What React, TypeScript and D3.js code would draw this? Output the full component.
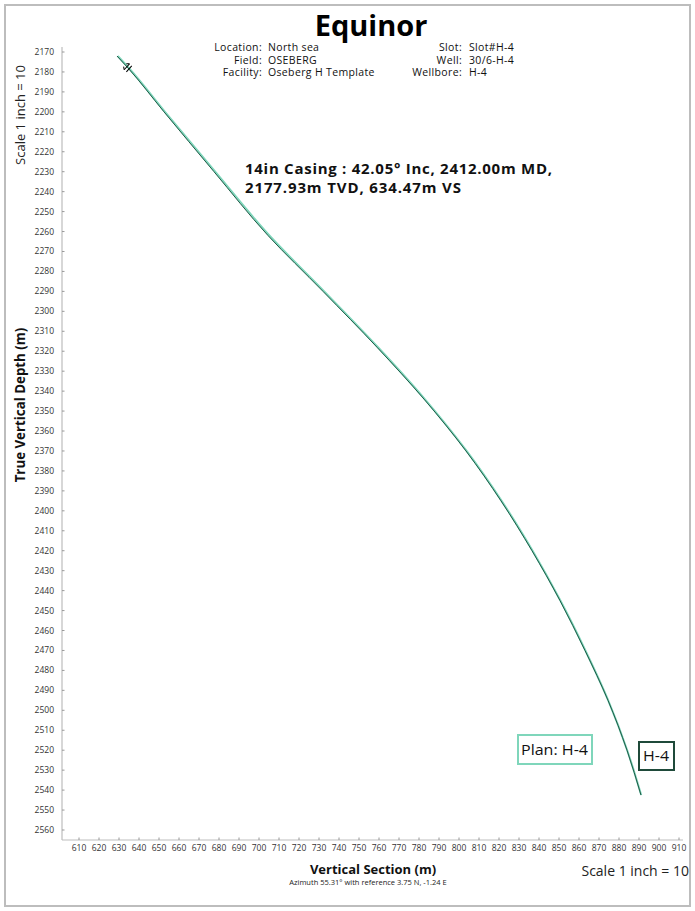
import React from "react";
import * as d3 from "d3";

const W = 695;
const H = 911;

const xTicks = d3.range(610, 911, 10);
const yTicks = d3.range(2170, 2561, 10);

// Actual wellbore H-4 (vertical section, TVD)
const actualVS = [629, 634.5, 652.5, 677.5, 704.5, 732, 759, 782.5, 803.5, 821, 836.5, 850.5, 863, 874.5, 884, 891];
const actualTVD = [2172, 2178, 2200, 2230, 2262, 2290, 2318, 2344, 2370, 2395, 2420, 2445, 2470, 2495, 2520, 2542.5];

// Plan: H-4
const planVS = [629.4, 634.9, 653, 678.1, 705.2, 732.6, 759.5, 782.9, 803.8, 821.3, 836.8, 850.7, 863.2, 874.6, 884.1, 891.1];
const planTVD = actualTVD;

const casingVS = 634.47;
const casingTVD = 2177.93;

const headerLeftKeys = ["Location:", "Field:", "Facility:"];
const headerLeftVals = ["North sea", "OSEBERG", "Oseberg H Template"];
const headerRightKeys = ["Slot:", "Well:", "Wellbore:"];
const headerRightVals = ["Slot#H-4", "30/6-H-4", "H-4"];

const FONT = "'Open Sans', 'DejaVu Sans', sans-serif";

export default function App() {
  if (typeof document !== "undefined") document.body.style.margin = "0";
  const x = d3.scaleLinear().domain([610, 910]).range([79, 679]);
  const y = d3.scaleLinear().domain([2170, 2560]).range([52, 830]);

  const line = d3
    .line<[number, number]>()
    .x((d) => x(d[0]))
    .y((d) => y(d[1]))
    .curve(d3.curveMonotoneY);

  const actualPts = actualVS.map((v, i) => [v, actualTVD[i]] as [number, number]);
  const planPts = planVS.map((v, i) => [v, planTVD[i]] as [number, number]);

  const axX0 = 62;
  const axY = 840;
  const axYTop = 47;
  const axXEnd = 683;

  const cx = x(casingVS);
  const cy = y(casingTVD);
  const hs = { fontSize: 10.5, letterSpacing: 0.35 } as const;

  return (
    <svg width={W} height={H} style={{ position: "absolute", left: 0, top: 0, display: "block" }} fontFamily={FONT}>
      <rect x={0} y={0} width={W} height={H} fill="#fff" />
      <rect x={5} y={5} width={685} height={901} fill="none" stroke="#bdbdbd" strokeWidth={2} />

      <text x={371} y={36} textAnchor="middle" fontSize={29} fontWeight={700} fill="#000">Equinor</text>

      {headerLeftKeys.map((k, i) => (
        <text key={"lk" + i} x={262} y={51 + i * 12.5} textAnchor="end" style={hs} fill="#111">{k}</text>
      ))}
      {headerLeftVals.map((k, i) => (
        <text key={"lv" + i} x={268} y={51 + i * 12.5} style={hs} fill="#111">{k}</text>
      ))}
      {headerRightKeys.map((k, i) => (
        <text key={"rk" + i} x={462} y={51 + i * 12.5} textAnchor="end" style={hs} fill="#111">{k}</text>
      ))}
      {headerRightVals.map((k, i) => (
        <text key={"rv" + i} x={469} y={51 + i * 12.5} style={hs} fill="#111">{k}</text>
      ))}

      {/* axes */}
      <line x1={axX0} y1={axYTop} x2={axX0} y2={axY} stroke="#bdbdbd" strokeWidth={1.2} />
      <line x1={axX0} y1={axY} x2={axXEnd} y2={axY} stroke="#bdbdbd" strokeWidth={1.2} />
      {yTicks.map((t) => (
        <g key={"yt" + t}>
          <line x1={axX0} x2={axX0 + 2.5} y1={y(t)} y2={y(t)} stroke="#999" strokeWidth={1} />
          <text x={54} y={y(t) + 3} textAnchor="end" fontSize={8.5} fill="#333">{t}</text>
        </g>
      ))}
      {xTicks.map((t) => (
        <g key={"xt" + t}>
          <line x1={x(t)} x2={x(t)} y1={axY} y2={axY - 2.5} stroke="#999" strokeWidth={1} />
          <text x={x(t)} y={851} textAnchor="middle" fontSize={8.5} fill="#333">{t}</text>
        </g>
      ))}

      {/* axis titles */}
      <text transform={`translate(25,405) rotate(-90)`} textAnchor="middle" fontSize={13.3} fontWeight={700} fill="#111">True Vertical Depth (m)</text>
      <text transform={`translate(25,115) rotate(-90)`} textAnchor="middle" fontSize={13} fill="#222">Scale 1 inch = 10</text>
      <text x={373} y={874} textAnchor="middle" fontSize={13} fontWeight={700} fill="#111">Vertical Section (m)</text>
      <text x={368} y={885} textAnchor="middle" fontSize={7.5} fill="#222">Azimuth 55.31° with reference 3.75 N, -1.24 E</text>
      <text x={689} y={876} textAnchor="end" fontSize={14} fill="#222">Scale 1 inch = 10</text>

      {/* well paths */}
      <path d={line(planPts) || ""} fill="none" stroke="#7fd6bb" strokeWidth={2} />
      <path d={line(actualPts) || ""} fill="none" stroke="#1f5a47" strokeWidth={1} />

      {/* casing marker */}
      <g transform={`translate(${cx},${cy}) rotate(${-48})`}>
        <line x1={-4} y1={-1.5} x2={4} y2={-1.5} stroke="#000" strokeWidth={1} />
        <line x1={-4} y1={1.5} x2={4} y2={1.5} stroke="#000" strokeWidth={1} />
        <path d="M-4,-1.5 L-2,-4 M4,-1.5 L2,-4" stroke="#000" strokeWidth={1} fill="none" />
      </g>

      <text x={245} y={174} fontSize={15} fontWeight={700} fill="#111" textLength={307} lengthAdjust="spacing">14in Casing : 42.05° Inc, 2412.00m MD,</text>
      <text x={245} y={193} fontSize={15} fontWeight={700} fill="#111" textLength={216} lengthAdjust="spacing">2177.93m TVD, 634.47m VS</text>

      {/* legend boxes */}
      <rect x={518} y={735} width={74} height={29} fill="#fff" stroke="#7fd6bb" strokeWidth={2} />
      <text x={521} y={755} fontSize={14.5} fill="#111" textLength={67} lengthAdjust="spacingAndGlyphs">Plan: H-4</text>
      <rect x={639} y={742} width={35} height={28} fill="#fff" stroke="#1f4a3a" strokeWidth={2} />
      <text x={643} y={761} fontSize={14.5} fill="#111" textLength={26} lengthAdjust="spacingAndGlyphs">H-4</text>
    </svg>
  );
}
